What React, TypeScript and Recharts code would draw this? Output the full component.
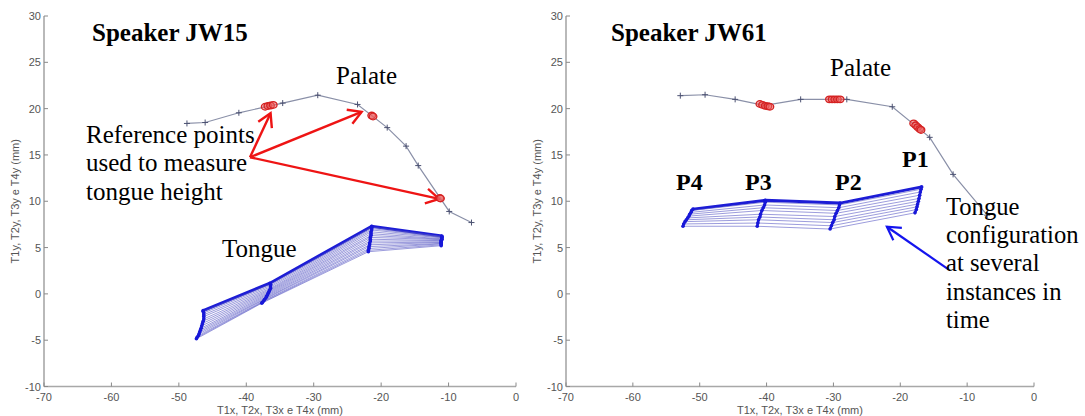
import React from 'react';
import { ScatterChart, Scatter, XAxis, YAxis, ReferenceLine } from 'recharts';

// axis ticks (mm)
const xTicks = [-70, -60, -50, -40, -30, -20, -10, 0];
const yTicks = [-10, -5, 0, 5, 10, 15, 20, 25, 30];

// Speaker JW15 - palate contour
const jw15PalateX = [-48.8, -46.1, -41.1, -34.6, -29.4, -23.5, -19.1, -16.3, -14.5, -9.9, -6.6];
const jw15PalateY = [18.4, 18.5, 19.55, 20.6, 21.45, 20.45, 17.95, 15.95, 13.85, 8.9, 7.7];
// reference points on the palate
const jw15RefX = [-37.2, -36.8, -36.4, -36.0, -21.4, -21.2, -11.3, -11.2];
const jw15RefY = [20.2, 20.28, 20.33, 20.4, 19.25, 19.15, 10.35, 10.3];

// Speaker JW15 - tongue points over time (P4 back ... P1 front)
const jw15P4x = [-46.4, -46.4, -46.3, -46.3, -46.3, -46.3, -46.4, -46.5, -46.6, -46.7, -46.8, -46.9, -47.0, -47.1, -47.3, -47.4];
const jw15P4y = [-1.8, -1.9, -2.05, -2.25, -2.45, -2.7, -2.95, -3.2, -3.45, -3.7, -3.9, -4.1, -4.3, -4.5, -4.7, -4.85];
const jw15P3x = [-36.5, -36.4, -36.4, -36.4, -36.4, -36.5, -36.6, -36.7, -36.8, -36.9, -37.0, -37.1, -37.3, -37.4, -37.6, -37.7];
const jw15P3y = [1.15, 1.05, 0.9, 0.75, 0.6, 0.45, 0.3, 0.15, 0.0, -0.15, -0.3, -0.45, -0.6, -0.75, -0.9, -1.0];
const jw15P2x = [-21.4, -21.4, -21.4, -21.4, -21.5, -21.5, -21.5, -21.6, -21.6, -21.6, -21.7, -21.7, -21.8, -21.8, -21.9, -21.9];
const jw15P2y = [7.3, 7.2, 7.05, 6.9, 6.7, 6.5, 6.3, 6.1, 5.9, 5.7, 5.5, 5.3, 5.1, 4.9, 4.7, 4.55];
const jw15P1x = [-11.0, -11.0, -11.0, -11.0, -11.0, -11.0, -11.0, -11.0, -11.1, -11.1, -11.1, -11.1, -11.1, -11.1, -11.1, -11.1];
const jw15P1y = [6.25, 6.2, 6.15, 6.1, 6.05, 5.95, 5.9, 5.85, 5.75, 5.7, 5.6, 5.55, 5.45, 5.4, 5.3, 5.2];

// Speaker JW61 - palate contour
const jw61PalateX = [-52.9, -49.2, -44.7, -40.3, -34.9, -28.0, -21.2, -15.6, -12.1, -7.0];
const jw61PalateY = [21.4, 21.5, 21.0, 20.35, 21.0, 21.0, 20.2, 16.9, 12.9, 8.5];
const jw61RefX = [-41.0, -40.6, -40.2, -39.8, -39.5, -30.6, -30.2, -29.8, -29.4, -29.0, -18.0, -17.7, -17.4, -17.1, -16.9];
const jw61RefY = [20.5, 20.4, 20.3, 20.25, 20.2, 21.0, 21.0, 21.0, 21.0, 21.0, 18.4, 18.2, 18.0, 17.8, 17.7];

// Speaker JW61 - tongue points over time
const jw61P4x = [-51.0, -51.2, -51.3, -51.5, -51.6, -51.8, -52.0, -52.2, -52.4, -52.5];
const jw61P4y = [9.15, 9.0, 8.8, 8.6, 8.4, 8.2, 8.0, 7.8, 7.55, 7.3];
const jw61P3x = [-40.2, -40.2, -40.3, -40.5, -40.7, -40.9, -41.0, -41.2, -41.3, -41.4];
const jw61P3y = [10.1, 9.9, 9.6, 9.3, 9.0, 8.6, 8.3, 8.0, 7.65, 7.3];
const jw61P2x = [-29.0, -29.1, -29.2, -29.4, -29.6, -29.8, -29.9, -30.1, -30.3, -30.5];
const jw61P2y = [9.8, 9.6, 9.3, 9.0, 8.7, 8.35, 8.0, 7.7, 7.35, 7.0];
const jw61P1x = [-16.8, -16.9, -17.0, -17.1, -17.2, -17.3, -17.4, -17.5, -17.6, -17.8];
const jw61P1y = [11.55, 11.3, 11.0, 10.65, 10.3, 10.0, 9.7, 9.4, 9.1, 8.75];

// annotation arrows [x1, y1, x2, y2]
const jw15Arrows = [
  [-39.45, 14.75, -36.4, 19.5],
  [-39.45, 14.75, -22.9, 19.65],
  [-39.45, 14.75, -11.4, 10.25],
];
const jw61Arrows = [[-12.8, 2.65, -22.0, 7.25]];

type Pt = { x: number; y: number };

const toPts = (xs: number[], ys: number[]): Pt[] => xs.map((x, i) => ({ x, y: ys[i] }));

const buildFrames = (cols: [number[], number[]][]) =>
  cols[0][0].map((_, i) => cols.map(([xs, ys]) => ({ x: xs[i], y: ys[i] })));

const jw15Cols: [number[], number[]][] = [
  [jw15P4x, jw15P4y],
  [jw15P3x, jw15P3y],
  [jw15P2x, jw15P2y],
  [jw15P1x, jw15P1y],
];
const jw61Cols: [number[], number[]][] = [
  [jw61P4x, jw61P4y],
  [jw61P3x, jw61P3y],
  [jw61P2x, jw61P2y],
  [jw61P1x, jw61P1y],
];

const sansFont = '"Liberation Sans", Arial, sans-serif';
const serifFont = '"Liberation Serif", "Times New Roman", serif';

const noDot = () => <g />;

const plusMark = (props: any) => {
  const { cx, cy } = props;
  return <path d={`M${cx - 3},${cy}h6M${cx},${cy - 3}v6`} stroke="#4c5272" strokeWidth={1} fill="none" />;
};

const redCircle = (props: any) => (
  <ellipse cx={props.cx} cy={props.cy} rx={3.8} ry={3.3} fill="rgba(236,96,96,0.55)" stroke="#d42222" strokeWidth={1.3} />
);

const blueDot = (props: any) => <circle cx={props.cx} cy={props.cy} r={1.8} fill="#1818d8" />;

const XTick = (props: any) => {
  const { x, y, payload } = props;
  return (
    <g>
      <line x1={x} y1={y} x2={x} y2={y - 4} stroke="#8a8a8a" />
      <text x={x} y={y + 14} textAnchor="middle" fontSize={11} fill="#555" fontFamily={sansFont}>
        {payload.value}
      </text>
    </g>
  );
};

const YTick = (props: any) => {
  const { x, y, payload } = props;
  return (
    <g>
      <line x1={x} y1={y} x2={x + 4} y2={y} stroke="#8a8a8a" />
      <text x={x - 3} y={y + 4} textAnchor="end" fontSize={11} fill="#555" fontFamily={sansFont}>
        {payload.value}
      </text>
    </g>
  );
};

const arrowShape = (color: string, width: number, head: number) => (props: any) => {
  const { x1, y1, x2, y2 } = props;
  const ang = Math.atan2(y2 - y1, x2 - x1);
  const a = Math.PI / 6;
  const hx1 = x2 - head * Math.cos(ang - a);
  const hy1 = y2 - head * Math.sin(ang - a);
  const hx2 = x2 - head * Math.cos(ang + a);
  const hy2 = y2 - head * Math.sin(ang + a);
  return (
    <g>
      <line x1={x1} y1={y1} x2={x2} y2={y2} stroke={color} strokeWidth={width} />
      <polyline points={`${hx1},${hy1} ${x2},${y2} ${hx2},${hy2}`} stroke={color} strokeWidth={width} fill="none" />
    </g>
  );
};

interface PanelProps {
  left: number;
  width: number;
  yAxisWidth: number;
  marginRight: number;
  yLabelOffset: number;
  palate: Pt[];
  refPts: Pt[];
  cols: [number[], number[]][];
  arrows: number[][];
  arrowColor: string;
  arrowWidth: number;
}

const Panel: React.FC<PanelProps> = ({
  left, width, yAxisWidth, marginRight, yLabelOffset, palate, refPts, cols, arrows, arrowColor, arrowWidth,
}) => {
  const frames = buildFrames(cols);
  const tracks = cols.map(([xs, ys]) => toPts(xs, ys));
  return (
    <div style={{ position: 'absolute', left, top: 0 }}>
      <ScatterChart width={width} height={416} margin={{ top: 16, right: marginRight, bottom: 0, left: 0 }}>
        <XAxis
          type="number"
          dataKey="x"
          domain={[-70, 0]}
          ticks={xTicks}
          allowDataOverflow
          height={29.5}
          tickSize={0}
          tickMargin={0}
          tick={<XTick />}
          tickLine={false}
          axisLine={{ stroke: '#a8a8a8', strokeWidth: 1.6 }}
          label={{
            value: 'T1x, T2x, T3x e T4x (mm)',
            position: 'insideBottom',
            offset: 2,
            style: { fontSize: 11, fill: '#555', fontFamily: sansFont },
          }}
        />
        <YAxis
          type="number"
          dataKey="y"
          domain={[-10, 30]}
          ticks={yTicks}
          allowDataOverflow
          width={yAxisWidth}
          tickSize={0}
          tickMargin={0}
          tick={<YTick />}
          tickLine={false}
          axisLine={{ stroke: '#a8a8a8', strokeWidth: 1.6 }}
          label={{
            value: 'T1y, T2y, T3y e T4y (mm)',
            angle: -90,
            position: 'insideLeft',
            offset: yLabelOffset,
            style: { textAnchor: 'middle', fontSize: 11, fill: '#555', fontFamily: sansFont },
          }}
        />
        <Scatter
          data={palate}
          fill="#8a90a8"
          line={{ stroke: '#8a90a8', strokeWidth: 1.2 }}
          shape={plusMark}
          isAnimationActive={false}
        />
        <Scatter data={refPts} fill="#d42222" shape={redCircle} isAnimationActive={false} />
        {frames.map((f, i) => (
          <Scatter
            key={`frame-${i}`}
            data={f}
            fill="#4a4ac8"
            line={{
              stroke: i === 0 ? '#1c1cd6' : '#5858c4',
              strokeWidth: i === 0 ? 3 : 0.7,
              strokeOpacity: i === 0 ? 1 : 0.85,
            }}
            shape={noDot}
            isAnimationActive={false}
          />
        ))}
        {tracks.map((t, i) => (
          <Scatter
            key={`track-${i}`}
            data={t}
            fill="#1818d8"
            line={{ stroke: '#1818d8', strokeWidth: 2.6 }}
            shape={blueDot}
            isAnimationActive={false}
          />
        ))}
        {arrows.map((a, i) => (
          <ReferenceLine
            key={`arrow-${i}`}
            segment={[{ x: a[0], y: a[1] }, { x: a[2], y: a[3] }]}
            shape={arrowShape(arrowColor, arrowWidth, 15)}
          />
        ))}
      </ScatterChart>
    </div>
  );
};

const Txt: React.FC<{ x: number; y: number; bold?: boolean; size?: number; children: React.ReactNode }> = ({
  x, y, bold, size = 25, children,
}) => (
  <div
    style={{
      position: 'absolute',
      left: x,
      top: y,
      fontFamily: serifFont,
      fontSize: size,
      fontWeight: bold ? 'bold' : 'normal',
      lineHeight: '28.4px',
      color: '#000',
      whiteSpace: 'pre',
    }}
  >
    {children}
  </div>
);

const App: React.FC = () => {
  return (
    <div style={{ position: 'absolute', left: 0, top: 0, width: 1085, height: 416, background: '#fff', overflow: 'hidden' }}>
      <Panel
        left={0}
        width={530}
        yAxisWidth={44}
        marginRight={14}
        yLabelOffset={15.5}
        palate={toPts(jw15PalateX, jw15PalateY)}
        refPts={toPts(jw15RefX, jw15RefY)}
        cols={jw15Cols}
        arrows={jw15Arrows}
        arrowColor="#ee1414"
        arrowWidth={2.4}
      />
      <Panel
        left={525}
        width={560}
        yAxisWidth={41}
        marginRight={51}
        yLabelOffset={12}
        palate={toPts(jw61PalateX, jw61PalateY)}
        refPts={toPts(jw61RefX, jw61RefY)}
        cols={jw61Cols}
        arrows={jw61Arrows}
        arrowColor="#1414ee"
        arrowWidth={2.2}
      />

      <Txt x={92} y={18.5}>
        <b>Speaker JW15</b>
      </Txt>
      <Txt x={336} y={62}>Palate</Txt>
      <Txt x={86} y={121}>{'Reference points\nused to measure\ntongue height'}</Txt>
      <Txt x={222} y={235}>Tongue</Txt>

      <Txt x={611} y={19.3}>
        <b>Speaker JW61</b>
      </Txt>
      <Txt x={830} y={54}>Palate</Txt>
      <Txt x={676} y={167.7} bold size={24}>P4</Txt>
      <Txt x={745} y={167.7} bold size={24}>P3</Txt>
      <Txt x={835} y={167.7} bold size={24}>P2</Txt>
      <Txt x={902} y={145.3} bold size={24}>P1</Txt>
      <Txt x={946} y={192.5} size={24.6}>{'Tongue\nconfiguration\nat several\ninstances in\ntime'}</Txt>
    </div>
  );
};

export default App;
